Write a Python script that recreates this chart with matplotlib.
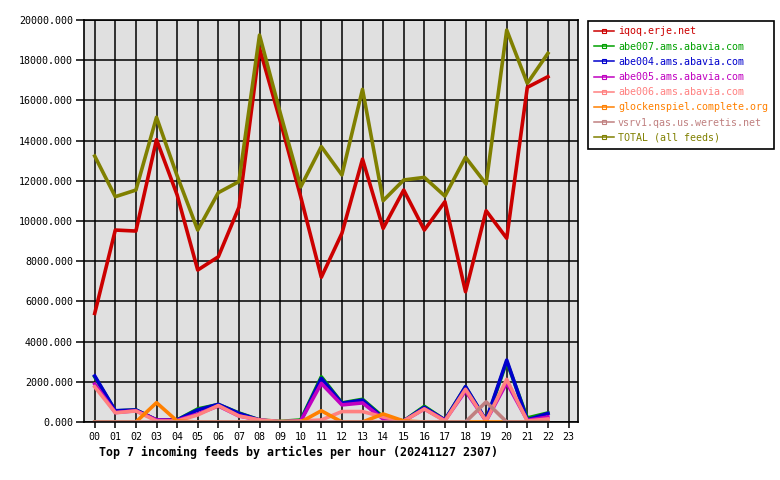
import matplotlib
matplotlib.use("Agg")
import matplotlib.pyplot as plt
from matplotlib.lines import Line2D
import numpy as np

plt.rcParams['font.family'] = ['DejaVu Sans Mono']

hours = list(range(23))
hour_labels = ["%02d" % h for h in range(24)]

names = ["iqoq.erje.net", "abe007.ams.abavia.com", "abe004.ams.abavia.com",
         "abe005.ams.abavia.com", "abe006.ams.abavia.com",
         "glockenspiel.complete.org", "vsrv1.qas.us.weretis.net",
         "TOTAL (all feeds)"]
colors = ["#cc0000", "#00a000", "#0000cc", "#c000c0", "#ff8080",
          "#ff8000", "#c08080", "#808000"]

iqoq = [5400, 9550, 9500, 14050, 11300, 7560, 8220, 10680, 18600, 15000, 11200,
        7200, 9390, 13080, 9630, 11540, 9550, 10960, 6480, 10510, 9140, 16650, 17180]
abe007 = [2250, 550, 600, 100, 100, 650, 870, 450, 100, 30, 100,
          2250, 950, 1130, 250, 50, 780, 100, 1750, 50, 3000, 200, 450]
abe004 = [2290, 560, 600, 100, 100, 600, 880, 430, 100, 0, 50,
          2170, 930, 1090, 200, 50, 730, 100, 1760, 80, 3080, 100, 430]
abe005 = [1890, 470, 560, 100, 80, 400, 800, 300, 100, 0, 50,
          1920, 850, 950, 150, 50, 650, 80, 1550, 50, 1950, 80, 250]
abe006 = [1750, 460, 550, 50, 50, 350, 820, 300, 100, 30, 50,
          100, 520, 520, 250, 50, 650, 50, 1630, 50, 2120, 50, 150]
glock = [0, 0, 0, 960, 50, 0, 0, 0, 0, 0, 0,
         560, 0, 0, 400, 50, 0, 0, 0, 0, 0, 0, 0]
vsrv1 = [0, 0, 0, 0, 0, 0, 0, 0, 0, 0, 0,
         0, 0, 0, 0, 0, 0, 0, 0, 1000, 0, 0, 0]
total = [13230, 11210, 11540, 15160, 12250, 9550, 11410, 11960, 19250, 15400, 11700,
         13700, 12290, 16550, 11010, 12040, 12170, 11240, 13170, 11840, 19500, 16850, 18340]

series = [iqoq, abe007, abe004, abe005, abe006, glock, vsrv1, total]

fig = plt.figure(figsize=(7.8, 4.8), dpi=100)
ax = fig.add_axes([84/780, 58/480, 494/780, 402/480])
ax.set_facecolor("#e0e0e0")

for vals, c in zip(series, colors):
    ax.plot(hours, vals, color=c, lw=2.6)

ax.set_xlim(-0.52, 23.46)
ax.set_ylim(0, 20000)
ax.set_xticks(range(24))
ax.set_xticklabels(hour_labels)
yt = np.arange(0, 20001, 2000)
ax.set_yticks(yt)
ax.set_yticklabels(["%.3f" % v for v in yt])
ax.grid(True, color="black", lw=1.1)
ax.set_axisbelow(True)
for s in ax.spines.values():
    s.set_linewidth(1.2)
ax.tick_params(axis='y', length=6, width=1.1, labelsize=7.2, pad=2)
ax.tick_params(axis='x', length=4, width=1.1, labelsize=7.2, pad=3)

handles = [Line2D([0], [0], color=c, lw=1.1, marker='s', markersize=2.5,
                  markerfacecolor='none', markeredgecolor=c, markeredgewidth=0.8)
           for c in colors]
leg = fig.legend(handles, names, loc='upper left',
                 bbox_to_anchor=(588/780, 459.5/480), bbox_transform=fig.transFigure,
                 borderaxespad=0, fancybox=False, edgecolor='black', framealpha=1,
                 fontsize=7.2, handlelength=2, handletextpad=0.4, borderpad=0.6,
                 labelspacing=0.52)
leg.get_frame().set_linewidth(1.2)
for t, c in zip(leg.get_texts(), colors):
    t.set_color(c)

fig.text(99/780, 1 - 452/480, "Top 7 incoming feeds by articles per hour (20241127 2307)",
         fontsize=8.4, fontweight='bold', ha='left', va='center')

fig.savefig("out.png", dpi=100)
